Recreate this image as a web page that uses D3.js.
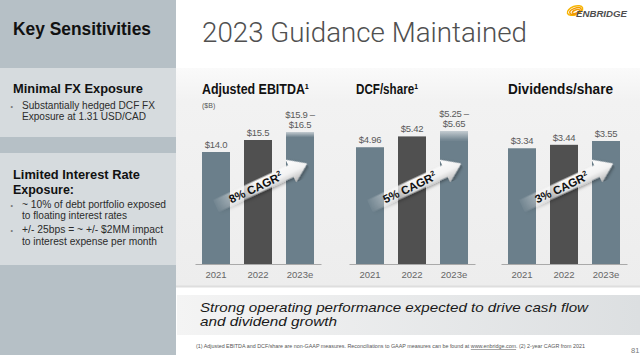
<!DOCTYPE html>
<html><head><meta charset="utf-8">
<script src="https://cdn.jsdelivr.net/npm/d3@7"></script>
<style>
html,body{margin:0;padding:0;background:#fff;overflow:hidden}
svg{display:block}
text{font-family:"Liberation Sans",Arial,Helvetica,sans-serif}
</style>
</head><body>
<svg id="c" width="640" height="355"></svg>
<script>
// ---------- data ----------
const years = ["2021", "2022", "2023e"];
const ebitdaLow  = [14.0, 15.5, 15.9];
const ebitdaHigh = [14.0, 15.5, 16.5];
const ebitdaLabels = [["$14.0"], ["$15.5"], ["$15.9 –", "$16.5"]];
const dcfLow  = [4.96, 5.42, 5.25];
const dcfHigh = [4.96, 5.42, 5.65];
const dcfLabels = [["$4.96"], ["$5.42"], ["$5.25 –", "$5.65"]];
const divLow  = [3.34, 3.44, 3.55];
const divHigh = [3.34, 3.44, 3.55];
const divLabels = [["$3.34"], ["$3.44"], ["$3.55"]];
const cagrLabels = ["8%", "5%", "3%"];
const chartTitles = ["Adjusted EBITDA", "DCF/share", "Dividends/share"];
const titleNotes = ["¹", "¹", ""];
const chartUnits = ["($B)", "", ""];

// ---------- layout ----------
const W = 640, H = 355;
const svg = d3.select("#c");
const defs = svg.append("defs");

const baseY = 264;
const layouts = [
  {x0: 195, x1: 321, top: 132, titleW: 103},
  {x0: 349, x1: 475, top: 131, titleW: 58},
  {x0: 501, x1: 627, top: 141, titleW: 105}
];
const charts = [
  {low: ebitdaLow, high: ebitdaHigh, labels: ebitdaLabels},
  {low: dcfLow, high: dcfHigh, labels: dcfLabels},
  {low: divLow, high: divHigh, labels: divLabels}
];

// gradients
const chartBg = defs.append("linearGradient").attr("id", "chartBg").attr("x1", 0).attr("y1", 0).attr("x2", 0).attr("y2", 1);
chartBg.append("stop").attr("offset", 0).attr("stop-color", "#fafafa");
chartBg.append("stop").attr("offset", 0.15).attr("stop-color", "#f2f2f2");
chartBg.append("stop").attr("offset", 1).attr("stop-color", "#ededed");

const bannerBg = defs.append("linearGradient").attr("id", "bannerBg").attr("x1", 0).attr("y1", 0).attr("x2", 1).attr("y2", 0);
bannerBg.append("stop").attr("offset", 0).attr("stop-color", "#f4f4f4");
bannerBg.append("stop").attr("offset", 1).attr("stop-color", "#dcdfe1");

const rangeG = defs.append("linearGradient").attr("id", "rangeG").attr("x1", 0).attr("y1", 0).attr("x2", 0).attr("y2", 1);
rangeG.append("stop").attr("offset", 0).attr("stop-color", "#c4ccd1");
rangeG.append("stop").attr("offset", 1).attr("stop-color", "#6b7f8b");

const arrowFill = defs.append("linearGradient").attr("id", "arrowFill").attr("x1", 0).attr("y1", 0).attr("x2", 0).attr("y2", 1);
arrowFill.append("stop").attr("offset", 0).attr("stop-color", "#ffffff");
arrowFill.append("stop").attr("offset", 0.55).attr("stop-color", "#f2f2f2");
arrowFill.append("stop").attr("offset", 1).attr("stop-color", "#b5b5b5");

const fadeG = defs.append("linearGradient").attr("id", "fadeG").attr("x1", 0).attr("y1", 0).attr("x2", 1).attr("y2", 0);
fadeG.append("stop").attr("offset", 0).attr("stop-color", "#fff").attr("stop-opacity", 0.05);
fadeG.append("stop").attr("offset", 0.45).attr("stop-color", "#fff").attr("stop-opacity", 1);
fadeG.append("stop").attr("offset", 1).attr("stop-color", "#fff").attr("stop-opacity", 1);
defs.append("mask").attr("id", "fadeMask").attr("maskContentUnits", "objectBoundingBox")
  .append("rect").attr("width", 1).attr("height", 1).attr("fill", "url(#fadeG)");

const shadow = defs.append("filter").attr("id", "shadow").attr("x", "-20%").attr("y", "-50%").attr("width", "140%").attr("height", "200%");
shadow.append("feDropShadow").attr("dx", 1).attr("dy", 2).attr("stdDeviation", 1.5)
  .attr("flood-color", "#000").attr("flood-opacity", 0.35);

// ---------- backgrounds ----------
svg.append("rect").attr("width", W).attr("height", H).attr("fill", "#ffffff");
svg.append("rect").attr("x", 176).attr("y", 68).attr("width", W - 176).attr("height", 219).attr("fill", "url(#chartBg)");
svg.append("rect").attr("x", 176).attr("y", 285.5).attr("width", W - 176).attr("height", 2).attr("fill", "#dedede");
svg.append("rect").attr("x", 177).attr("y", 295).attr("width", W - 177).attr("height", 40).attr("fill", "url(#bannerBg)");

// left panel
svg.append("rect").attr("x", 0).attr("y", 0).attr("width", 176).attr("height", H).attr("fill", "#b6c0c6");
svg.append("rect").attr("x", 0).attr("y", 68).attr("width", 176).attr("height", 69).attr("fill", "#d6dbde");
svg.append("rect").attr("x", 0).attr("y", 153).attr("width", 176).attr("height", 112).attr("fill", "#d6dbde");

function txt(x, y, s, o) {
  const t = svg.append("text").attr("x", x).attr("y", y).text(s)
    .attr("font-size", o.size).attr("fill", o.fill || "#1a1a1a");
  if (o.weight) t.attr("font-weight", o.weight);
  if (o.style) t.attr("font-style", o.style);
  if (o.len) t.attr("textLength", o.len).attr("lengthAdjust", "spacingAndGlyphs");
  if (o.family) t.style("font-family", o.family);
  return t;
}

txt(13, 34.5, "Key Sensitivities", {size: 17.5, weight: "bold", len: 138, fill: "#111"});
txt(13, 93, "Minimal FX Exposure", {size: 13.5, weight: "bold", len: 130, fill: "#111"});
txt(10.5, 108.5, "•", {size: 7, fill: "#777"});
txt(22, 109, "Substantially hedged DCF FX", {size: 10, len: 133, fill: "#2b2b2b"});
txt(22, 119.5, "Exposure at 1.31 USD/CAD", {size: 10, len: 124, fill: "#2b2b2b"});
txt(13, 179, "Limited Interest Rate", {size: 13.5, weight: "bold", len: 127, fill: "#111"});
txt(13, 193.5, "Exposure:", {size: 13.5, weight: "bold", len: 61, fill: "#111"});
txt(10.5, 207.5, "•", {size: 7, fill: "#777"});
txt(22, 208, "~ 10% of debt portfolio exposed", {size: 10, len: 144, fill: "#2b2b2b"});
txt(22, 219, "to floating interest rates", {size: 10, len: 105, fill: "#2b2b2b"});
txt(10.5, 232.5, "•", {size: 7, fill: "#777"});
txt(22, 233, "+/- 25bps = ~ +/- $2MM impact", {size: 10, len: 141, fill: "#2b2b2b"});
txt(22, 244.5, "to interest expense per month", {size: 10, len: 135, fill: "#2b2b2b"});

// header
txt(202, 42, "2023 Guidance Maintained", {size: 28, len: 325, fill: "#505050", weight: 300, family: "Roboto, 'Liberation Sans', sans-serif"});

// logo
const logo = svg.append("g");
[[575, 10.5, 8, 4.2, -20], [575.5, 11, 6, 2.8, -20], [576, 11.5, 3.8, 1.6, -20]].forEach((e, i) => {
  logo.append("ellipse").attr("cx", e[0]).attr("cy", e[1]).attr("rx", e[2]).attr("ry", e[3])
    .attr("transform", `rotate(${e[4]},${e[0]},${e[1]})`)
    .attr("fill", "none").attr("stroke", i === 0 ? "#f7b500" : "#f29b00").attr("stroke-width", 1.5);
});
txt(576, 17, "ENBRIDGE", {size: 8.5, weight: "bold", style: "italic", len: 51, fill: "#4e4e4e"});

// ---------- charts ----------
charts.forEach((c, i) => {
  const L = layouts[i];
  const x = d3.scaleBand().domain(years).range([L.x0, L.x1]).paddingInner(1 / 3).paddingOuter(1 / 6);
  const y = d3.scaleLinear().domain([0, d3.max(c.high)]).range([baseY, L.top]);
  const g = svg.append("g");

  // bars
  years.forEach((yr, j) => {
    const col = j === 1 ? "#505050" : "#6b7f8b";
    g.append("rect").attr("x", x(yr)).attr("width", x.bandwidth())
      .attr("y", y(c.low[j])).attr("height", baseY - y(c.low[j])).attr("fill", col);
    if (c.high[j] > c.low[j]) {
      g.append("rect").attr("x", x(yr)).attr("width", x.bandwidth())
        .attr("y", y(c.high[j])).attr("height", y(c.low[j]) - y(c.high[j]) + 0.5).attr("fill", "url(#rangeG)");
    }
    const lines = c.labels[j];
    lines.forEach((s, k) => {
      g.append("text").attr("x", x(yr) + x.bandwidth() / 2)
        .attr("y", y(c.high[j]) - 4 - (lines.length - 1 - k) * 10)
        .attr("text-anchor", "middle").attr("font-size", 9.5).attr("letter-spacing", -0.3)
        .attr("fill", "#5a5a5a").text(s);
    });
  });

  // axis
  const ax = g.append("g").attr("transform", `translate(0,${baseY})`)
    .call(d3.axisBottom(x).tickSize(0).tickPadding(7).tickSizeOuter(0));
  ax.select(".domain").attr("stroke", "#a9a9a9").attr("stroke-width", 1);
  ax.selectAll("text").attr("font-size", 9.5).attr("fill", "#666")
    .style("font-family", "'Liberation Sans', Arial, sans-serif");

  // title (footnote marker as a superscript character in the same string)
  const tx = x(years[0]);
  txt(tx, 94, chartTitles[i] + titleNotes[i],
      {size: 14, weight: "bold", len: L.titleW + (titleNotes[i] ? 4 : 0), fill: "#111"});
  if (chartUnits[i]) txt(tx, 107.5, chartUnits[i], {size: 7, fill: "#555"});

  // CAGR arrow
  const cx = x(years[1]) + x.bandwidth() / 2 + 3, cy = 185;
  const ag = g.append("g").attr("transform", `translate(${cx},${cy}) rotate(-25)`);
  ag.append("path")
    .attr("d", "M-50,-6.5 L33,-6.5 L33,-12.5 L51,0 L33,12.5 L33,6.5 L-50,6.5 Z")
    .attr("fill", "url(#arrowFill)").attr("filter", "url(#shadow)").attr("mask", "url(#fadeMask)");
  const at = ag.append("text").attr("x", -6).attr("y", 4.2).attr("text-anchor", "middle")
    .attr("font-size", 11.5).attr("font-weight", "bold").attr("fill", "#111");
  at.append("tspan").text(cagrLabels[i] + " CAGR");
  at.append("tspan").attr("font-size", 7).attr("dy", -5).text("2");
});

// banner text
txt(200, 311.5, "Strong operating performance expected to drive cash flow", {size: 12.8, style: "italic", len: 388, fill: "#1a1a1a"});
txt(200, 326, "and dividend growth", {size: 12.8, style: "italic", len: 137, fill: "#1a1a1a"});

// footnote
const fn = svg.append("text").attr("x", 196).attr("y", 348).attr("font-size", 5.2).attr("fill", "#555")
  .attr("textLength", 389).attr("lengthAdjust", "spacingAndGlyphs");
fn.append("tspan").text("(1) Adjusted EBITDA and DCF/share are non-GAAP measures. Reconciliations to GAAP measures can be found at ");
fn.append("tspan").attr("text-decoration", "underline").text("www.enbridge.com");
fn.append("tspan").text(". (2) 2-year CAGR from 2021");

txt(631, 353, "81", {size: 7.5, fill: "#777"});
</script>
</body></html>
